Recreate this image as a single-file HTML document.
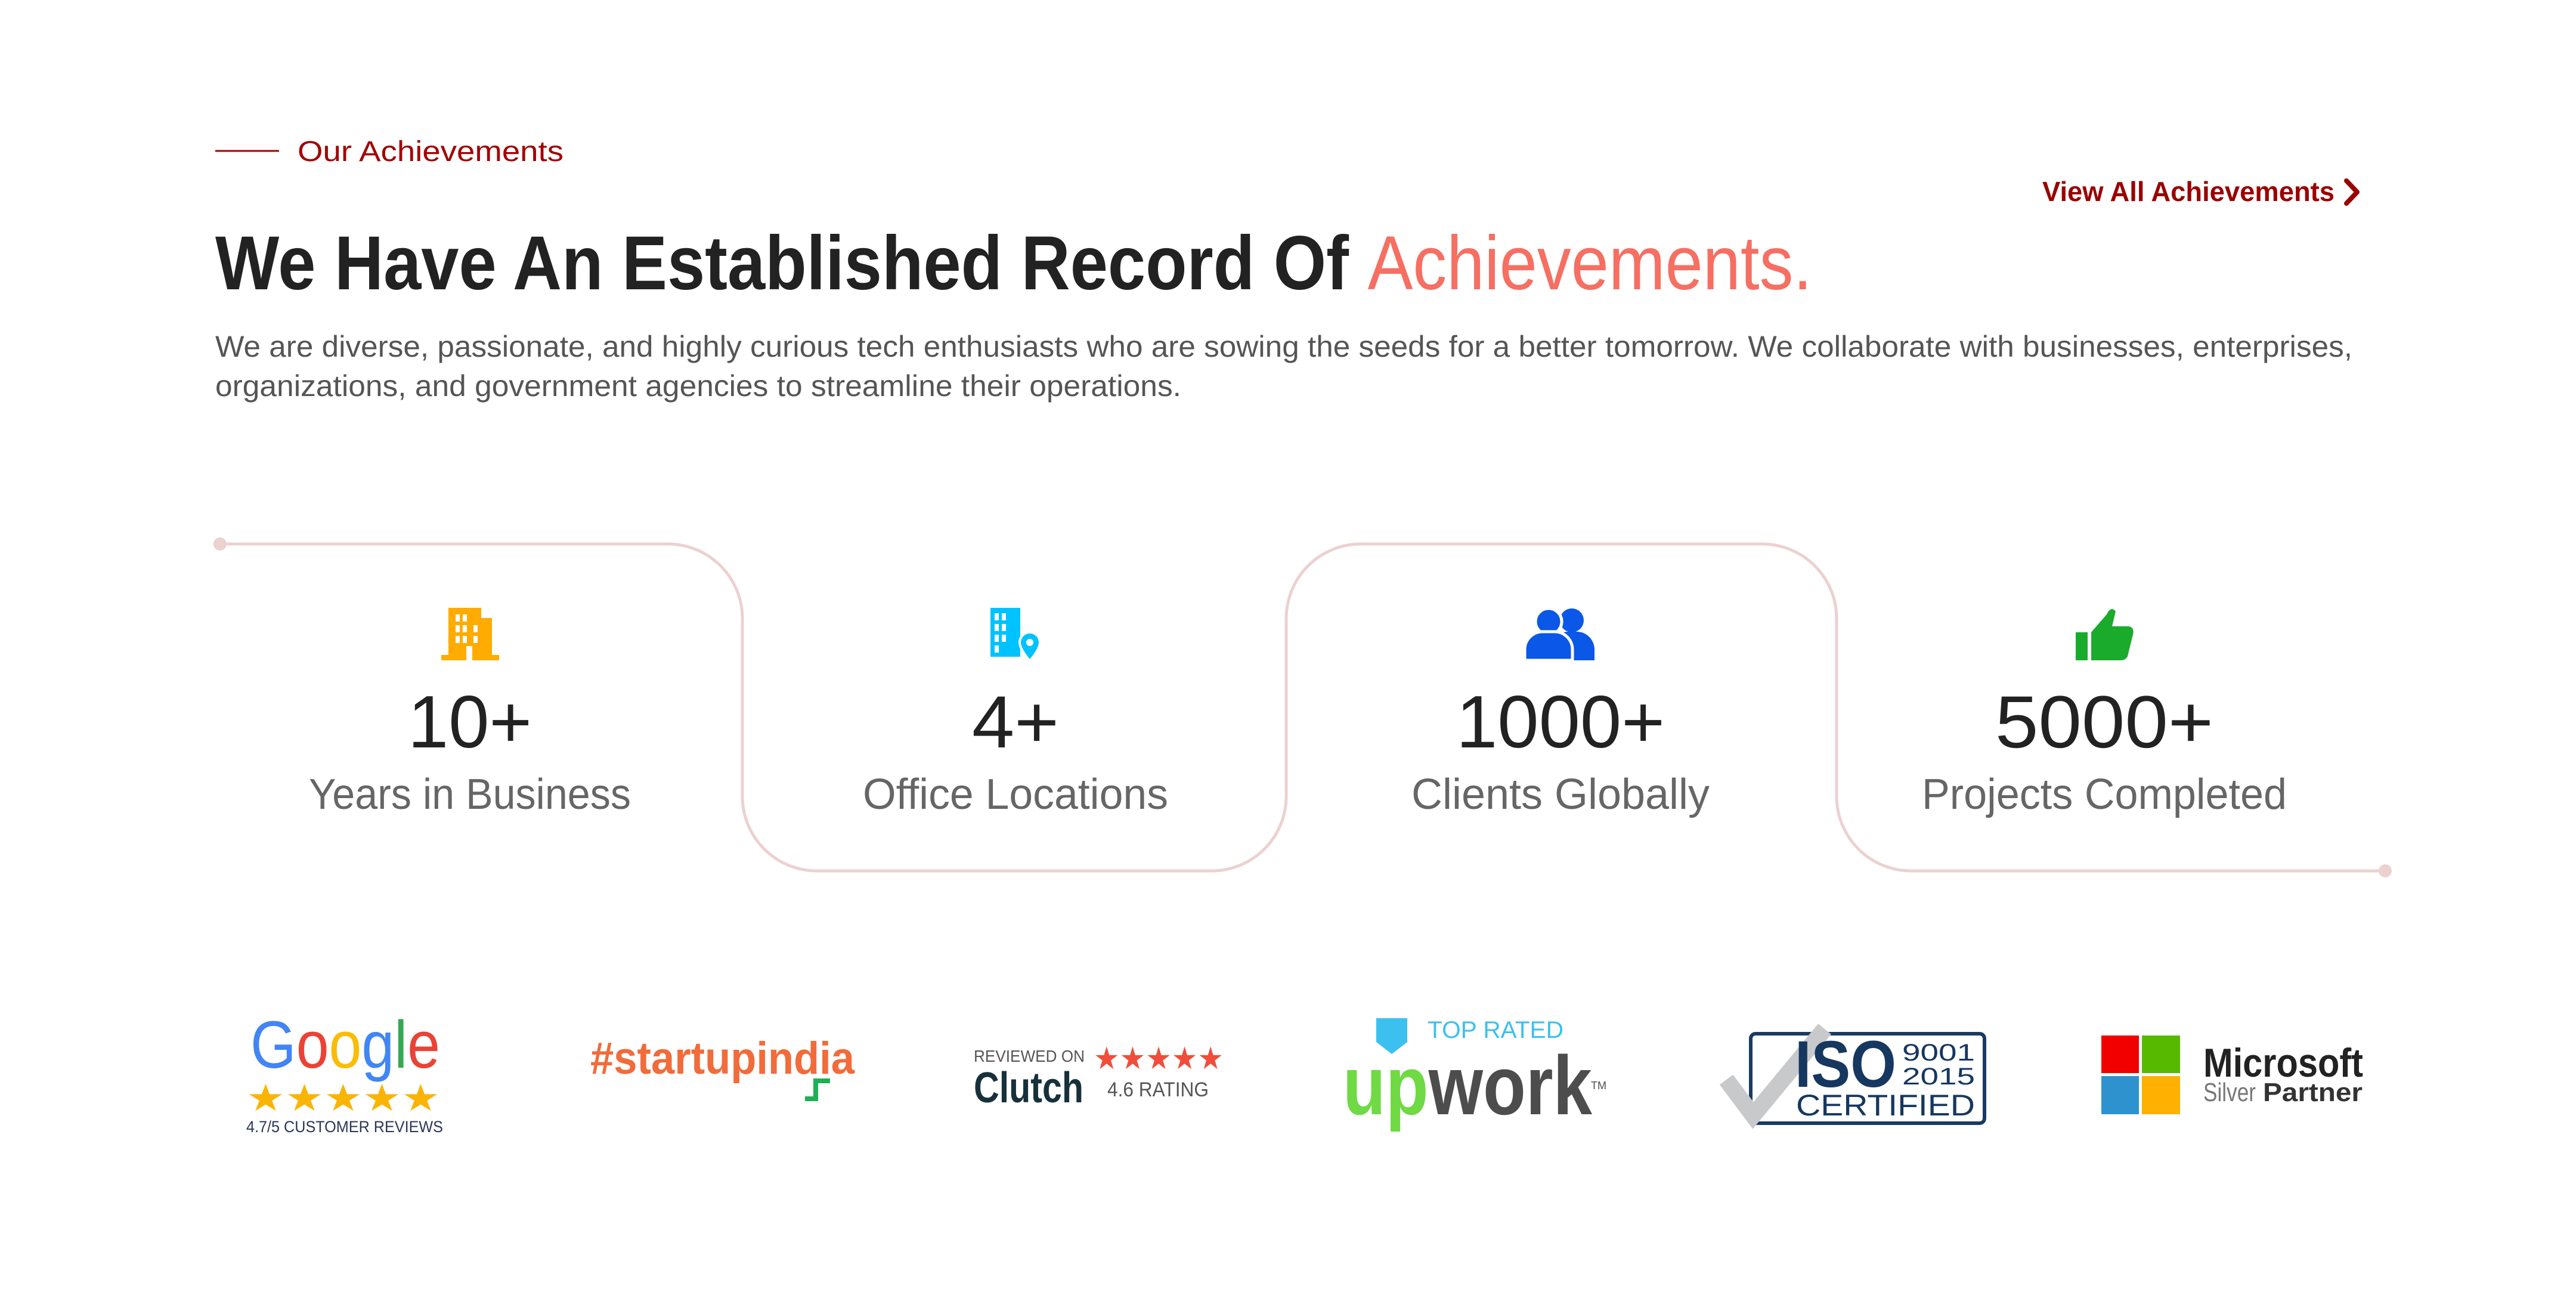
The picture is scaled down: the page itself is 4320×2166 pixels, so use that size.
<!DOCTYPE html>
<html><head><meta charset="utf-8"><style>
html,body{margin:0;padding:0;background:#fff;width:4320px;height:2166px;overflow:hidden}
svg{display:block}
text{font-family:"Liberation Sans",sans-serif}
</style></head><body>
<svg width="4320" height="2166" viewBox="0 0 4320 2166">
<line x1="361" y1="253" x2="468" y2="253" stroke="#a30000" stroke-width="3"/>
<text x="499" y="270" font-size="48" fill="#a30000" textLength="446" lengthAdjust="spacingAndGlyphs">Our Achievements</text>
<g>
<text x="3425" y="337" font-size="46" font-weight="bold" fill="#9b0000" textLength="490" lengthAdjust="spacingAndGlyphs">View All Achievements</text>
<path d="M3935 303 L3953 322 L3935 341" fill="none" stroke="#9b0000" stroke-width="8" stroke-linecap="round" stroke-linejoin="round"/>
</g>
<text x="361" y="485" font-size="128" font-weight="bold" fill="#222" textLength="2678" lengthAdjust="spacingAndGlyphs">We Have An Established Record Of <tspan fill="#f66f62" font-weight="normal">Achievements.</tspan></text>
<text x="361" y="598" font-size="50" fill="#555" textLength="3584" lengthAdjust="spacingAndGlyphs">We are diverse, passionate, and highly curious tech enthusiasts who are sowing the seeds for a better tomorrow. We collaborate with businesses, enterprises,</text>
<text x="361" y="664" font-size="50" fill="#555" textLength="1620" lengthAdjust="spacingAndGlyphs">organizations, and government agencies to streamline their operations.</text>

<path d="M369 912 H1120 A125 125 0 0 1 1245 1037 V1335 A125 125 0 0 0 1370 1460 H2032 A125 125 0 0 0 2157 1335 V1037 A125 125 0 0 1 2282 912 H2955 A125 125 0 0 1 3080 1037 V1335 A125 125 0 0 0 3205 1460 H4000" fill="none" stroke="#ecd1d1" stroke-width="5"/>
<circle cx="369" cy="912" r="11" fill="#ecd1d1"/>
<circle cx="4000" cy="1460" r="11" fill="#ecd1d1"/>

<!-- icons -->
<g fill="#ffab00">
<rect x="752" y="1019" width="55" height="88"/><rect x="807" y="1036" width="18" height="71"/><rect x="740" y="1098" width="97" height="9"/>
<g fill="#fff"><rect x="764" y="1030" width="7" height="12"/><rect x="776" y="1030" width="7" height="12"/><rect x="764" y="1048" width="7" height="12"/><rect x="776" y="1048" width="7" height="12"/><rect x="794" y="1048" width="7" height="12"/><rect x="764" y="1066" width="7" height="12"/><rect x="776" y="1066" width="7" height="12"/><rect x="794" y="1066" width="7" height="12"/><rect x="782" y="1083" width="10" height="24"/></g>
</g>
<g>
<rect x="1661" y="1019" width="50" height="82" fill="#00c2ff"/>
<g fill="#fff"><rect x="1668" y="1028" width="7" height="12"/><rect x="1680" y="1028" width="7" height="12"/><rect x="1668" y="1046" width="7" height="12"/><rect x="1680" y="1046" width="7" height="12"/><rect x="1668" y="1064" width="7" height="12"/><rect x="1680" y="1064" width="7" height="12"/><rect x="1668" y="1082" width="7" height="12"/></g>
<path d="M1727 1060 a17 17 0 0 1 17 17 c0 12 -17 31 -17 31 c0 0 -17 -19 -17 -31 a17 17 0 0 1 17 -17z" fill="#00c2ff" stroke="#fff" stroke-width="4"/>
<circle cx="1727" cy="1077" r="6" fill="#fff"/>
</g>
<g fill="#0a57e8">
<circle cx="2636" cy="1040" r="20"/><path d="M2600 1107 v-18 a30 30 0 0 1 30 -30 h14 a30 30 0 0 1 30 30 v18z"/>
<circle cx="2597" cy="1042" r="22" stroke="#fff" stroke-width="5"/><path d="M2557 1107 v-18 a30 30 0 0 1 30 -30 h20 a30 30 0 0 1 30 30 v18z" stroke="#fff" stroke-width="5"/>
</g>
<g fill="#1aab2c">
<rect x="3481" y="1060" width="20" height="47"/>
<path d="M3507 1060 L3533 1030 Q3540 1015 3548 1025 L3542 1050 H3570 Q3580 1052 3577 1064 L3568 1100 Q3565 1107 3556 1107 H3507z"/>
</g>

<g>
<text x="788" y="1253" text-anchor="middle" font-size="124" fill="#222" textLength="208" lengthAdjust="spacingAndGlyphs">10+</text>
<text x="788" y="1356" text-anchor="middle" font-size="72" fill="#666" textLength="540" lengthAdjust="spacingAndGlyphs">Years in Business</text>
</g>
<g>
<text x="1703" y="1253" text-anchor="middle" font-size="124" fill="#222" textLength="146" lengthAdjust="spacingAndGlyphs">4+</text>
<text x="1703" y="1356" text-anchor="middle" font-size="72" fill="#666" textLength="512" lengthAdjust="spacingAndGlyphs">Office Locations</text>
</g>
<g>
<text x="2617" y="1253" text-anchor="middle" font-size="124" fill="#222" textLength="350" lengthAdjust="spacingAndGlyphs">1000+</text>
<text x="2617" y="1356" text-anchor="middle" font-size="72" fill="#666" textLength="500" lengthAdjust="spacingAndGlyphs">Clients Globally</text>
</g>
<g>
<text x="3529" y="1253" text-anchor="middle" font-size="124" fill="#222" textLength="366" lengthAdjust="spacingAndGlyphs">5000+</text>
<text x="3529" y="1356" text-anchor="middle" font-size="72" fill="#666" textLength="612" lengthAdjust="spacingAndGlyphs">Projects Completed</text>
</g>

<!-- logos -->
<g>
<text x="420" y="1790" font-size="112" textLength="318" lengthAdjust="spacingAndGlyphs"><tspan fill="#4285f4">G</tspan><tspan fill="#ea4335">o</tspan><tspan fill="#fbbc05">o</tspan><tspan fill="#4285f4">g</tspan><tspan fill="#34a853">l</tspan><tspan fill="#ea4335">e</tspan></text>
<text x="413" y="1862" font-size="62" fill="#fbb404" textLength="325" lengthAdjust="spacingAndGlyphs">★★★★★</text>
<text x="413" y="1898" font-size="27" fill="#2b3657" textLength="330" lengthAdjust="spacingAndGlyphs">4.7/5 CUSTOMER REVIEWS</text>
</g>
<g>
<text x="990" y="1800" font-size="76" font-weight="bold" fill="#f26b3a" textLength="443" lengthAdjust="spacingAndGlyphs">#startupindia</text>
<path d="M1350 1842 H1368 V1812 H1392" fill="none" stroke="#1db056" stroke-width="8"/>
</g>
<g>
<text x="1633" y="1780" font-size="28" fill="#555" textLength="186" lengthAdjust="spacingAndGlyphs">REVIEWED ON</text>
<text x="1834" y="1792" font-size="52" fill="#f04d3b" textLength="218" lengthAdjust="spacingAndGlyphs">★★★★★</text>
<text x="1633" y="1848" font-size="72" font-weight="bold" fill="#17313b" textLength="184" lengthAdjust="spacingAndGlyphs">Clutch</text>
<text x="1857" y="1838" font-size="34" fill="#555" textLength="170" lengthAdjust="spacingAndGlyphs">4.6 RATING</text>
</g>
<g>
<path d="M2308 1707 h52 v40 l-26 20 l-26 -20z" fill="#3cc0ef"/>
<text x="2394" y="1740" font-size="40" fill="#3cc0ef" textLength="228" lengthAdjust="spacingAndGlyphs">TOP RATED</text>
<text x="2252" y="1868" font-size="140" font-weight="bold" textLength="418" lengthAdjust="spacingAndGlyphs"><tspan fill="#6fda44">up</tspan><tspan fill="#4d4d4d">work</tspan></text>
<text x="2668" y="1826" font-size="18" fill="#4d4d4d">TM</text>
</g>
<g>
<rect x="2936" y="1733" width="392" height="150" rx="8" fill="#fff" stroke="#1a3a63" stroke-width="6"/>
<path d="M2895 1810 L2940 1870 L3060 1725" fill="none" stroke="#c8c9cb" stroke-width="28"/>
<text x="3010" y="1822" font-size="110" font-weight="bold" fill="#16375f" textLength="170" lengthAdjust="spacingAndGlyphs">ISO</text>
<text x="3190" y="1778" font-size="40" fill="#16375f" textLength="122" lengthAdjust="spacingAndGlyphs">9001</text>
<text x="3190" y="1818" font-size="40" fill="#16375f" textLength="122" lengthAdjust="spacingAndGlyphs">2015</text>
<text x="3012" y="1870" font-size="50" fill="#16375f" textLength="300" lengthAdjust="spacingAndGlyphs">CERTIFIED</text>
</g>
<g>
<rect x="3524" y="1736" width="63" height="63" fill="#f20000"/><rect x="3592" y="1736" width="64" height="63" fill="#57b900"/>
<rect x="3524" y="1804" width="63" height="64" fill="#2e92cf"/><rect x="3592" y="1804" width="64" height="64" fill="#ffb000"/>
<text x="3695" y="1805" font-size="68" font-weight="bold" fill="#222" textLength="268" lengthAdjust="spacingAndGlyphs">Microsoft</text>
<text x="3695" y="1846" font-size="44" fill="#777" textLength="88" lengthAdjust="spacingAndGlyphs">Silver</text>
<text x="3795" y="1846" font-size="44" font-weight="bold" fill="#333" textLength="167" lengthAdjust="spacingAndGlyphs">Partner</text>
</g>
</svg>
</body></html>
